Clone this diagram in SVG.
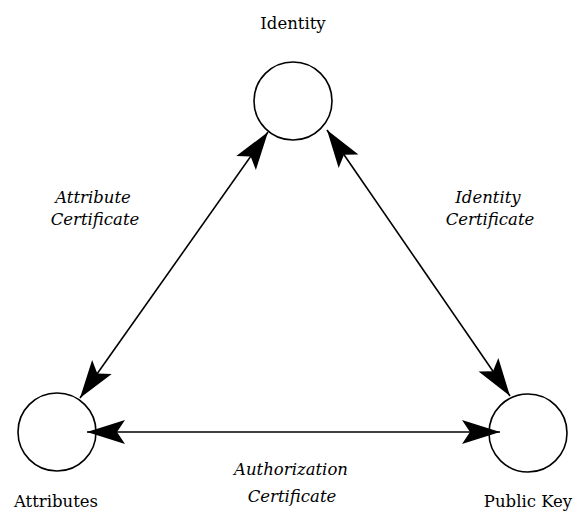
<svg xmlns="http://www.w3.org/2000/svg" width="577" height="514" viewBox="0 0 577 514">
<style>
.node circle{fill:#fff;stroke:#000;stroke-width:1.6}
.lbl{font-family:"DejaVu Serif","Liberation Serif",serif;font-size:16.5px;fill:#000;text-anchor:middle}
.it{font-family:"DejaVu Serif","Liberation Serif",serif;font-size:16.5px;font-style:italic;fill:#000;text-anchor:middle}
.conn{stroke:#000;stroke-width:1.6;fill:none;marker-start:url(#ah);marker-end:url(#ah)}
</style>
<defs>
<marker id="ah" markerUnits="userSpaceOnUse" viewBox="-40 -15 42 30" refX="0" refY="0" markerWidth="42" markerHeight="30" orient="auto-start-reverse">
<path d="M0,0 L-38,-12 L-30,0 L-38,12 Z" fill="#000"/>
</marker>
</defs>
<rect width="577" height="514" fill="#fff"/>
<g id="identity" class="node"><circle cx="293" cy="101" r="39"/><text class="lbl" x="293" y="29">Identity</text></g>
<g id="attributes" class="node"><circle cx="57" cy="432" r="39"/><text class="lbl" x="56" y="507">Attributes</text></g>
<g id="publickey" class="node"><circle cx="528" cy="433" r="39"/><text class="lbl" x="528" y="507">Public Key</text></g>
<g id="connectors">
<line class="conn" x1="268" y1="132" x2="80" y2="398"/>
<line class="conn" x1="327" y1="130" x2="510" y2="396"/>
<line class="conn" x1="87" y1="432" x2="500" y2="432"/>
</g>
<g id="labels">
<text class="it" x="93" y="203">Attribute</text>
<text class="it" x="95" y="225">Certificate</text>
<text class="it" x="488" y="203">Identity</text>
<text class="it" x="490" y="225">Certificate</text>
<text class="it" x="291" y="475">Authorization</text>
<text class="it" x="292" y="502">Certificate</text>
</g>
</svg>
